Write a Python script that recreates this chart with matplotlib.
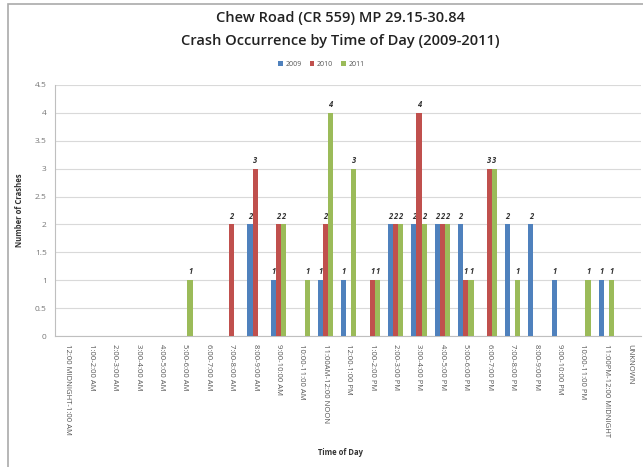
import matplotlib
matplotlib.use("Agg")
import matplotlib.pyplot as plt
import numpy as np
from matplotlib.patches import Rectangle

plt.rcParams['font.family'] = ['Open Sans', 'DejaVu Sans']

categories = ['12:00 MIDNIGHT-1:00 AM', '1:00-2:00 AM', '2:00-3:00 AM', '3:00-4:00 AM',
              '4:00-5:00 AM', '5:00-6:00 AM', '6:00-7:00 AM', '7:00-8:00 AM',
              '8:00-9:00 AM', '9:00-10:00 AM', '10:00-11:00 AM', '11:00AM-12:00 NOON',
              '12:00-1:00 PM', '1:00-2:00 PM', '2:00-3:00 PM', '3:00-4:00 PM',
              '4:00-5:00 PM', '5:00-6:00 PM', '6:00-7:00 PM', '7:00-8:00 PM',
              '8:00-9:00 PM', '9:00-10:00 PM', '10:00-11:00 PM',
              '11:00PM-12:00 MIDNIGHT', 'UNKNOWN']
y2009 = [0, 0, 0, 0, 0, 0, 0, 0, 2, 1, 0, 1, 1, 0, 2, 2, 2, 2, 0, 2, 2, 1, 0, 1, 0]
y2010 = [0, 0, 0, 0, 0, 0, 0, 2, 3, 2, 0, 2, 0, 1, 2, 4, 2, 1, 3, 0, 0, 0, 0, 0, 0]
y2011 = [0, 0, 0, 0, 0, 1, 0, 0, 0, 2, 1, 4, 3, 1, 2, 2, 2, 1, 3, 1, 0, 0, 1, 1, 0]

series = [('2009', y2009, '#4F81BD'), ('2010', y2010, '#C0504D'), ('2011', y2011, '#9BBB59')]

fig = plt.figure(figsize=(6.43, 4.67), dpi=100)
ax = fig.add_axes([0.0855, 0.2805, 0.912, 0.5375])

x = np.arange(len(categories))
w = 0.22
for i, (name, vals, col) in enumerate(series):
    pos = x + (i - 1) * w
    ax.bar(pos, vals, width=w, color=col, label=name, zorder=3)
    for p, v in zip(pos, vals):
        if v > 0:
            ax.text(p, v + 0.07, str(v), ha='center', va='bottom', fontsize=5.5,
                    fontweight='bold', fontstyle='italic', color='#333333')

ax.set_xlim(-0.55, len(categories) - 0.5)
ax.set_ylim(0, 4.5)
ax.set_yticks(np.arange(0, 4.51, 0.5))
ax.set_yticklabels(['0', '0.5', '1', '1.5', '2', '2.5', '3', '3.5', '4', '4.5'])
ax.yaxis.grid(True, color='#d9d9d9', linewidth=0.8, zorder=0)
ax.set_xticks(x)
ax.set_xticklabels(categories, rotation=270, fontsize=5.5, color='#555555')
ax.tick_params(axis='y', labelsize=6, colors='#777777', length=0, pad=6)
ax.tick_params(axis='x', length=0, pad=6)
for s in ['top', 'right']:
    ax.spines[s].set_visible(False)
ax.spines['left'].set_color('#bfbfbf')
ax.spines['bottom'].set_color('#bfbfbf')

ax.set_ylabel('Number of Crashes', fontsize=5.5, fontweight='bold', color='#333333', labelpad=8)
fig.text(0.53, 0.025, 'Time of Day', fontsize=5.5, fontweight='bold', color='#333333', ha='center')

fig.text(0.53, 0.962, 'Chew Road (CR 559) MP 29.15-30.84', ha='center', va='center',
         fontsize=10.5, fontweight='semibold', color='#222222')
fig.text(0.53, 0.912, 'Crash Occurrence by Time of Day (2009-2011)', ha='center', va='center',
         fontsize=10.5, fontweight='semibold', color='#222222')

fig.legend(loc='center', bbox_to_anchor=(0.5, 0.862), ncol=3, fontsize=5, frameon=False,
           handlelength=0.6, handleheight=0.6, handletextpad=0.4, columnspacing=1.2,
           labelcolor='#555555')

fig.patches.append(Rectangle((0.012, -0.01), 1.0, 1.002, transform=fig.transFigure,
                             fill=False, edgecolor='#aaaaaa', linewidth=1.2))

fig.savefig('out.png', dpi=100)
